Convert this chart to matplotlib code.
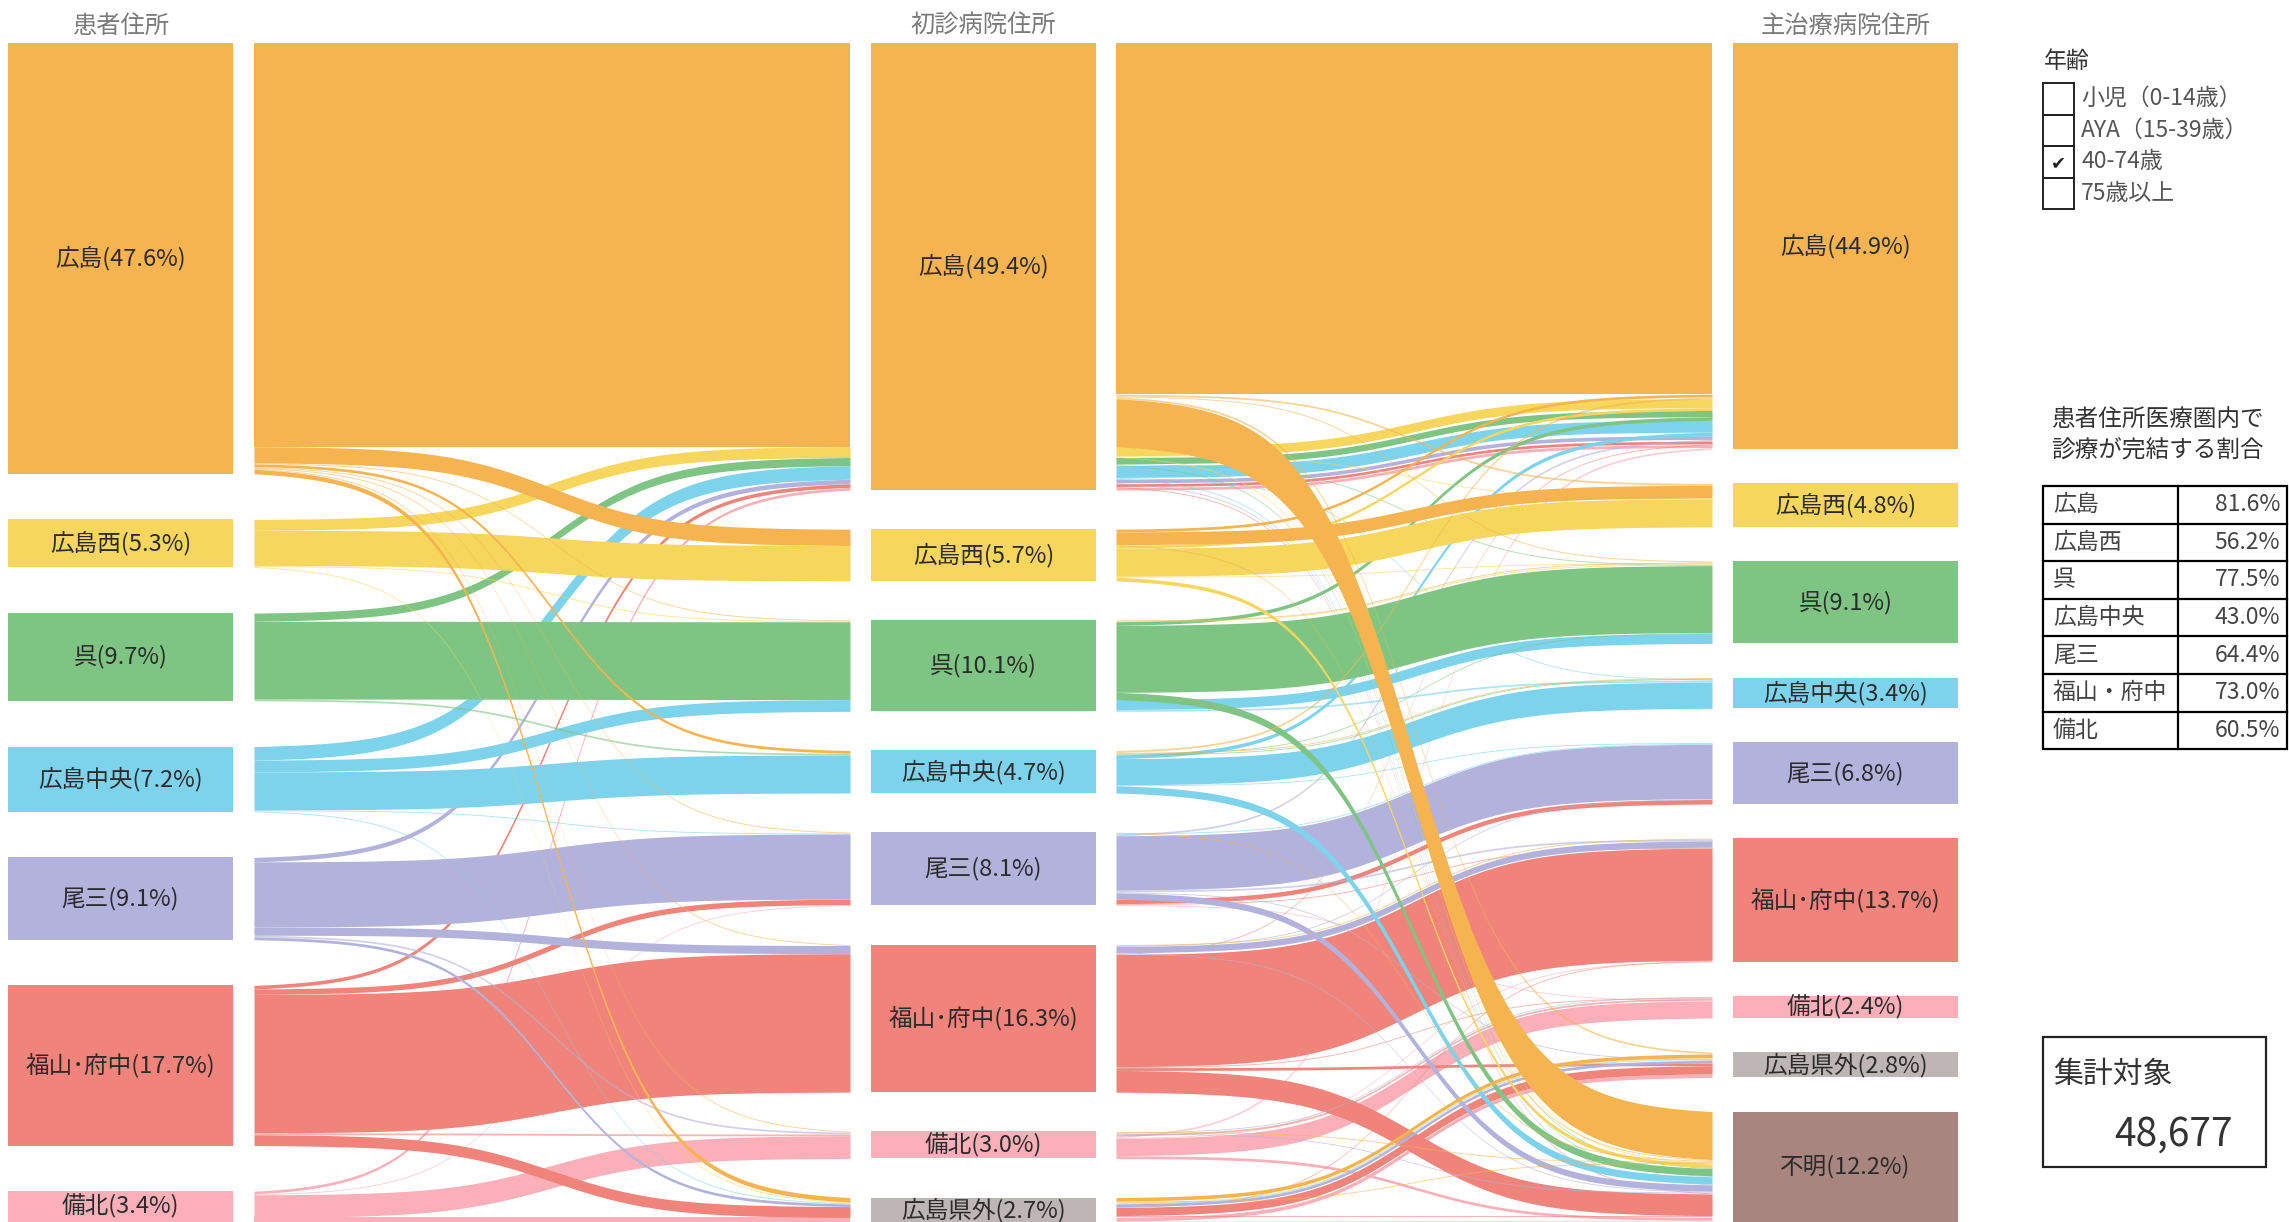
import numpy as np
import matplotlib
matplotlib.use('Agg')
import matplotlib.pyplot as plt
import matplotlib.transforms as mtransforms
from matplotlib.patches import Rectangle

plt.rcParams['font.family'] = ['Noto Sans CJK JP', 'DejaVu Sans']

# 医療圏（表示順）と色
regions = ['広島', '広島西', '呉', '広島中央', '尾三', '福山・府中', '備北', '広島県外', '不明']
region_colors = ['#F6B450', '#F7D65D', '#7EC584', '#7DD3EC', '#B3B2DC',
                 '#F0847B', '#FBAFB8', '#BDB6B4', '#A8867F']

# 各列のノード割合(%)
residence_pct = [47.6, 5.3, 9.7, 7.2, 9.1, 17.7, 3.4]             # 患者住所
first_pct = [49.4, 5.7, 10.1, 4.7, 8.1, 16.3, 3.0, 2.7]           # 初診病院住所
main_pct = [44.9, 4.8, 9.1, 3.4, 6.8, 13.7, 2.4, 2.8, 12.2]       # 主治療病院住所

# 患者住所 -> 初診病院 -> 主治療病院 の流れ(%)
paths = [
    # 初診: 広島
    ('広島', '広島', '広島', 38.8), ('広島', '広島', '広島西', 0.2), ('広島', '広島', '呉', 0.1),
    ('広島', '広島', '広島県外', 0.2), ('広島', '広島', '不明', 5.3),
    ('広島西', '広島', '広島', 1.0), ('広島西', '広島', '広島西', 0.1), ('広島西', '広島', '不明', 0.1),
    ('呉', '広島', '広島', 0.7), ('呉', '広島', '呉', 0.1), ('呉', '広島', '不明', 0.1),
    ('広島中央', '広島', '広島', 1.3), ('広島中央', '広島', '広島中央', 0.1), ('広島中央', '広島', '不明', 0.1),
    ('尾三', '広島', '広島', 0.4), ('尾三', '広島', '不明', 0.1),
    ('福山・府中', '広島', '広島', 0.3), ('福山・府中', '広島', '不明', 0.1),
    ('備北', '広島', '広島', 0.3),
    # 初診: 広島西
    ('広島', '広島西', '広島', 0.3), ('広島', '広島西', '広島西', 1.4), ('広島', '広島西', '不明', 0.1),
    ('広島西', '広島西', '広島', 0.3), ('広島西', '広島西', '呉', 0.1), ('広島西', '広島西', '広島西', 3.1),
    ('広島西', '広島西', '不明', 0.4),
    # 初診: 呉
    ('広島', '呉', '呉', 0.1), ('広島西', '呉', '呉', 0.1),
    ('呉', '呉', '広島', 0.4), ('呉', '呉', '呉', 7.4), ('呉', '呉', '不明', 0.8),
    ('広島中央', '呉', '呉', 1.1), ('広島中央', '呉', '広島中央', 0.2),
    # 初診: 広島中央
    ('広島', '広島中央', '広島', 0.2), ('広島', '広島中央', '広島中央', 0.1),
    ('呉', '広島中央', '呉', 0.1), ('呉', '広島中央', '広島中央', 0.1),
    ('広島中央', '広島中央', '広島', 0.4), ('広島中央', '広島中央', '広島中央', 2.9),
    ('広島中央', '広島中央', '尾三', 0.1), ('広島中央', '広島中央', '不明', 0.8),
    # 初診: 尾三
    ('広島', '尾三', '不明', 0.1), ('広島中央', '尾三', '尾三', 0.1),
    ('尾三', '尾三', '広島', 0.2), ('尾三', '尾三', '尾三', 6.0), ('尾三', '尾三', '福山・府中', 0.2),
    ('尾三', '尾三', '広島県外', 0.1), ('尾三', '尾三', '不明', 0.7),
    ('福山・府中', '尾三', '尾三', 0.5), ('福山・府中', '尾三', '福山・府中', 0.1),
    ('備北', '尾三', '備北', 0.1),
    # 初診: 福山・府中
    ('広島', '福山・府中', '福山・府中', 0.1),
    ('尾三', '福山・府中', '尾三', 0.1), ('尾三', '福山・府中', '福山・府中', 0.7), ('尾三', '福山・府中', '不明', 0.1),
    ('福山・府中', '福山・府中', '広島', 0.1), ('福山・府中', '福山・府中', '福山・府中', 12.4),
    ('福山・府中', '福山・府中', '備北', 0.1), ('福山・府中', '福山・府中', '広島県外', 0.3),
    ('福山・府中', '福山・府中', '不明', 2.4),
    # 初診: 備北
    ('広島', '備北', '不明', 0.1), ('尾三', '備北', '備北', 0.1), ('尾三', '備北', '不明', 0.1),
    ('福山・府中', '備北', '備北', 0.2),
    ('備北', '備北', '広島', 0.2), ('備北', '備北', '福山・府中', 0.1), ('備北', '備北', '備北', 1.9),
    ('備北', '備北', '不明', 0.3),
    # 初診: 広島県外
    ('広島', '広島県外', '広島県外', 0.4), ('広島', '広島県外', '不明', 0.1),
    ('広島西', '広島県外', '広島県外', 0.1), ('広島中央', '広島県外', '広島県外', 0.1),
    ('尾三', '広島県外', '広島県外', 0.3),
    ('福山・府中', '広島県外', '福山・府中', 0.1), ('福山・府中', '広島県外', '広島県外', 0.9),
    ('福山・府中', '広島県外', '不明', 0.2),
    ('備北', '広島県外', '広島県外', 0.4), ('備北', '広島県外', '不明', 0.1),
]

column_titles = ['患者住所', '初診病院住所', '主治療病院住所']

age_groups = ['小児（0-14歳）', 'AYA（15-39歳）', '40-74歳', '75歳以上']
age_checked = [False, False, True, False]

table_title = '患者住所医療圏内で\n診療が完結する割合'
table_regions = ['広島', '広島西', '呉', '広島中央', '尾三', '福山・府中', '備北']
table_values = [81.6, 56.2, 77.5, 43.0, 64.4, 73.0, 60.5]

total_label = '集計対象'
total_count = 48677

# ---------------- レイアウト ----------------
W, Hpx = 2289, 1222
TOP = 43
PX_PER_PCT = 9.05
H = (Hpx - TOP) / PX_PER_PCT
node_x = [(8, 233), (871, 1096), (1733, 1958)]
band_x = [(254, 850), (1116, 1712)]
K = 11.0

fig = plt.figure(figsize=(W / 100, Hpx / 100), dpi=100)
ax = fig.add_axes([0, 0, 1, (Hpx - TOP) / Hpx])
ax.set_xlim(0, W)
ax.set_ylim(H, 0)
ax.axis('off')


def node_tops(values):
    gap = (H - sum(values)) / (len(values) - 1)
    tops, y = [], 0.0
    for v in values:
        tops.append(y)
        y += v + gap
    return tops


def ribbon(x0, x1, y0, y1, w, color):
    t = np.linspace(0, 1, 160)
    s = 1 / (1 + np.exp(-K * (t - 0.5)))
    s = (s - s[0]) / (s[-1] - s[0])
    x = x0 + (x1 - x0) * t
    top = y0 + (y1 - y0) * s
    # 細い流れは淡く
    a = 1.0 if w > 0.25 else 0.6
    ax.fill_between(x, top, top + w, color=color, alpha=a, lw=0)


def draw_band(links, tops_a, tops_b, xa, xb):
    # links: (src, dst, color, value) のインデックス
    y0 = {}
    off = {}
    for i in sorted(range(len(links)), key=lambda i: (links[i][0], links[i][2], links[i][1])):
        s = links[i][0]
        y0[i] = tops_a[s] + off.get(s, 0.0)
        off[s] = off.get(s, 0.0) + links[i][3]
    y1 = {}
    off = {}
    for i in sorted(range(len(links)), key=lambda i: (links[i][1], links[i][2], links[i][0])):
        d = links[i][1]
        y1[i] = tops_b[d] + off.get(d, 0.0)
        off[d] = off.get(d, 0.0) + links[i][3]
    for i in sorted(range(len(links)), key=lambda i: (-links[i][2], -links[i][3])):
        ribbon(xa, xb, y0[i], y1[i], links[i][3], region_colors[links[i][2]])


idx = {r: i for i, r in enumerate(regions)}

# 1段目: 患者住所 -> 初診 (色 = 患者住所)
stage1 = {}
for res, fst, mn, v in paths:
    stage1[(idx[res], idx[fst])] = stage1.get((idx[res], idx[fst]), 0) + v
links1 = [(a, b, a, v) for (a, b), v in stage1.items()]

# 2段目: 初診 -> 主治療 (色 = 患者住所)
stage2 = {}
for res, fst, mn, v in paths:
    key = (idx[fst], idx[mn], idx[res])
    stage2[key] = stage2.get(key, 0) + v
links2 = [(a, b, c, v) for (a, b, c), v in stage2.items()]

columns = [residence_pct, first_pct, main_pct]
tops = [node_tops(c) for c in columns]

draw_band(links1, tops[0], tops[1], *band_x[0])
draw_band(links2, tops[1], tops[2], *band_x[1])

for ci, vals in enumerate(columns):
    x0, x1 = node_x[ci]
    names = regions[:len(vals)]
    ax.bar([(x0 + x1) / 2] * len(vals), vals, bottom=tops[ci], width=x1 - x0,
           color=region_colors[:len(vals)], lw=0)
    for name, v, t in zip(names, vals, tops[ci]):
        label = name.replace('・', '･')
        ax.text((x0 + x1) / 2, t + v / 2, f'{label}({v:.1f}%)', ha='center', va='center',
                fontsize=17, color='#2b2b2b')

trans = mtransforms.blended_transform_factory(ax.transData, fig.transFigure)
for ci, title in enumerate(column_titles):
    x0, x1 = node_x[ci]
    ax.text((x0 + x1) / 2, 1 - 26 / Hpx, title, transform=trans, ha='center', va='center',
            fontsize=17.5, color='#7a7a7a')

# ---------------- 右側パネル ----------------
px = fig.add_axes([0, 0, 1, 1])
px.set_xlim(0, W)
px.set_ylim(Hpx, 0)
px.axis('off')
px.patch.set_alpha(0)

px.text(2044, 61, '年齢', ha='left', va='center', fontsize=16.5, color='#333333')
row_h = 31.5
for i, (lab, chk) in enumerate(zip(age_groups, age_checked)):
    yt = 83 + i * row_h
    px.add_patch(Rectangle((2043, yt), 31, row_h, fill=False, ec='#222222', lw=1.4))
    px.text(2081, yt + row_h / 2, lab, ha='left', va='center', fontsize=16.5, color='#555555')
    if chk:
        px.text(2058.5, yt + row_h / 2 + 1, '✔', ha='center', va='center', fontsize=13,
                color='#222222', family=['DejaVu Sans'])

px.text(2051, 435, table_title, ha='left', va='center', fontsize=17, color='#333333',
        linespacing=1.4)

tx0, tx1, tdiv = 2043, 2287, 2178
ty0, trow = 486, 37.6
n = len(table_regions)
px.add_patch(Rectangle((tx0, ty0), tx1 - tx0, trow * n, fill=False, ec='black', lw=1.6))
for i in range(1, n):
    px.plot([tx0, tx1], [ty0 + i * trow] * 2, color='black', lw=1.6)
px.plot([tdiv, tdiv], [ty0, ty0 + trow * n], color='black', lw=1.6)
for i, (lab, val) in enumerate(zip(table_regions, table_values)):
    yc = ty0 + (i + 0.5) * trow
    px.text(2053, yc, lab, ha='left', va='center', fontsize=16.5, color='#444444')
    px.text(2280, yc, f'{val:.1f}%', ha='right', va='center', fontsize=16.5, color='#444444')

px.add_patch(Rectangle((2043, 1037), 223, 130, fill=False, ec='#222222', lw=1.6))
px.text(2053, 1074, total_label, ha='left', va='center', fontsize=21.5, color='#333333')
px.text(2233, 1135, f'{total_count:,}', ha='right', va='center', fontsize=28, color='#333333')

fig.savefig('out.png', dpi=100, facecolor='white')
